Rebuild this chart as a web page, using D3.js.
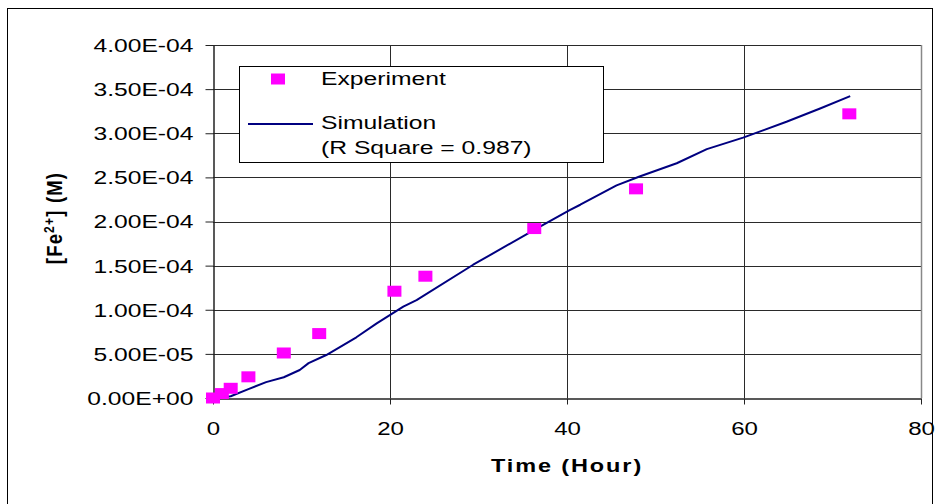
<!DOCTYPE html>
<html>
<head>
<meta charset="utf-8">
<script src="https://cdn.jsdelivr.net/npm/d3@7"></script>
<style>
  html, body { margin: 0; padding: 0; background: #fff; }
  svg { display: block; font-family: "Liberation Sans", Arial, sans-serif; }
</style>
</head>
<body>
<svg id="chart" width="938" height="504"></svg>
<script>
// Experiment measurements: time (h) and [Fe2+] (M)
const expTime  = [0, 1, 2, 4, 8, 12, 20.5, 24, 36.3, 47.8, 71.9];
const expFe    = [0, 5.0e-6, 1.1e-5, 2.4e-5, 5.1e-5, 7.3e-5, 1.21e-4, 1.38e-4, 1.92e-4, 2.37e-4, 3.22e-4];

// Simulation curve
const simTime  = [0, 1, 2, 4, 6, 8, 9.8, 10.8, 12.8, 16.2, 18.5, 21.5, 23, 29.4, 36.9, 40.3, 41.5, 45.6, 48.2, 52.4, 55.8, 59.9, 64.8, 68.6, 72];
const simFe    = [0, 5e-7, 2.0e-6, 1.0e-5, 1.8e-5, 2.35e-5, 3.17e-5, 3.95e-5, 4.87e-5, 6.88e-5, 8.46e-5, 1.035e-4, 1.11e-4, 1.51e-4, 1.94e-4, 2.13e-4, 2.19e-4, 2.41e-4, 2.51e-4, 2.66e-4, 2.82e-4, 2.95e-4, 3.13e-4, 3.28e-4, 3.42e-4];

// Axis ticks
const xTicks = [0, 20, 40, 60, 80];
const yTicks = [0, 5e-5, 1e-4, 1.5e-4, 2e-4, 2.5e-4, 3e-4, 3.5e-4, 4e-4];

const legendLabels = ["Experiment", "Simulation", "(R Square = 0.987)"];

const svg = d3.select("#chart");
const FONT = '"Liberation Sans", Arial, sans-serif';

// Outer frame
svg.append("rect")
  .attr("x", 7.5).attr("y", 8.5).attr("width", 925).attr("height", 520)
  .attr("fill", "#fff").attr("stroke", "#000").attr("stroke-width", 1);

const x = d3.scaleLinear().domain([0, 80]).range([213, 921]);
const y = d3.scaleLinear().domain([0, 4e-4]).range([398, 45]);

function sci(v) {
  if (v === 0) return "0.00E+00";
  const [m, e] = v.toExponential(2).split("e");
  const n = +e;
  return m + "E" + (n < 0 ? "-" : "+") + String(Math.abs(n)).padStart(2, "0");
}

// Gridlines
const grid = svg.append("g");
grid.selectAll("line.h").data(yTicks.filter(d => d > 0)).join("line")
  .attr("x1", x(0)).attr("x2", x(80))
  .attr("y1", d => Math.round(y(d)) + 0.5).attr("y2", d => Math.round(y(d)) + 0.5)
  .attr("stroke", "#2a2a2a").attr("stroke-width", 1);
grid.selectAll("line.v").data(xTicks.filter(d => d > 0 && d < 80)).join("line")
  .attr("x1", d => Math.round(x(d)) + 0.5).attr("x2", d => Math.round(x(d)) + 0.5)
  .attr("y1", y(4e-4)).attr("y2", y(0))
  .attr("stroke", "#2a2a2a").attr("stroke-width", 1);
// right edge of the plot area
svg.append("line")
  .attr("x1", Math.round(x(80)) + 0.5).attr("x2", Math.round(x(80)) + 0.5)
  .attr("y1", y(4e-4)).attr("y2", y(0))
  .attr("stroke", "#888").attr("stroke-width", 1.5);

// Axes
const yAxis = svg.append("g")
  .attr("transform", `translate(${Math.round(x(0)) + 0.5},0)`)
  .call(d3.axisLeft(y).tickValues(yTicks).tickSize(8).tickSizeOuter(0).tickFormat(sci));
const xAxis = svg.append("g")
  .attr("transform", `translate(0,${Math.round(y(0)) + 0.5})`)
  .call(d3.axisBottom(x).tickValues(xTicks).tickSize(6).tickSizeOuter(0).tickFormat(d3.format("d")));

[yAxis, xAxis].forEach(a => {
  a.select(".domain").attr("stroke", "#222").attr("stroke-width", 1.5);
  a.selectAll(".tick line").attr("stroke", "#222");
});
yAxis.selectAll(".tick text")
  .attr("x", null).attr("dy", null).attr("y", 6.4)
  .attr("transform", "translate(-20,0) scale(1.37,1)")
  .attr("font-size", 18).attr("fill", "#000")
  .attr("font-family", FONT);
xAxis.selectAll(".tick text")
  .attr("y", 0).attr("dy", null)
  .attr("transform", "translate(0,36) scale(1.3,1)")
  .attr("font-size", 18.5).attr("fill", "#000")
  .attr("font-family", FONT);

// Simulation line
const line = d3.line().x(d => x(d[0])).y(d => y(d[1]));
svg.append("path")
  .datum(d3.zip(simTime, simFe))
  .attr("d", line)
  .attr("fill", "none").attr("stroke", "#000080").attr("stroke-width", 2)
  .attr("stroke-linejoin", "round");

// Experiment markers
const mw = 14, mh = 11;
svg.append("g").selectAll("rect").data(d3.zip(expTime, expFe)).join("rect")
  .attr("x", d => x(d[0]) - mw / 2).attr("y", d => y(d[1]) - mh / 2)
  .attr("width", mw).attr("height", mh)
  .attr("fill", "#ff00ff");

// Legend
const lg = svg.append("g");
lg.append("rect")
  .attr("x", 239.5).attr("y", 66.5).attr("width", 364).attr("height", 96)
  .attr("fill", "#fff").attr("stroke", "#000").attr("stroke-width", 1);
lg.append("rect")
  .attr("x", 278 - mw / 2).attr("y", 79 - mh / 2).attr("width", mw).attr("height", mh)
  .attr("fill", "#ff00ff");
lg.append("line")
  .attr("x1", 248).attr("x2", 313).attr("y1", 124).attr("y2", 124)
  .attr("stroke", "#000080").attr("stroke-width", 2);
const legY = [85, 129, 154];
legendLabels.forEach((t, i) => {
  lg.append("text")
    .attr("transform", `translate(321,${legY[i]}) scale(1.3,1)`)
    .attr("font-size", 19).attr("fill", "#000")
    .text(t);
});

// Axis titles
svg.append("text")
  .attr("transform", "translate(567,472) scale(1.27,1)")
  .attr("text-anchor", "middle").attr("font-weight", "bold")
  .attr("font-size", 18.5).attr("letter-spacing", 1.5)
  .text("Time (Hour)");

const yt = svg.append("text")
  .attr("transform", "translate(62,218) scale(1.2,1) rotate(-90)")
  .attr("text-anchor", "middle").attr("font-weight", "bold")
  .attr("font-size", 18.5).attr("letter-spacing", 1.2);
yt.append("tspan").text("[Fe");
yt.append("tspan").attr("font-size", 12).attr("dy", -7).text("2+");
yt.append("tspan").attr("dy", 7).text("] (M)");
</script>
</body>
</html>
